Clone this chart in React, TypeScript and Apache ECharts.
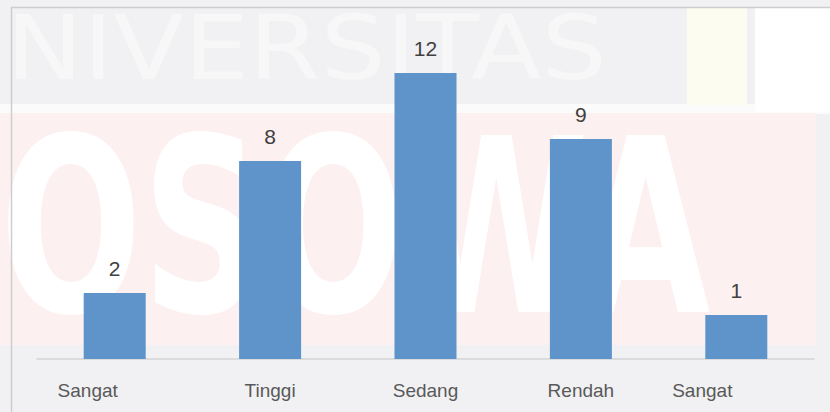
import React, { useEffect, useRef } from "react";
import * as echarts from "echarts";

const categories = ["Sangat", "Tinggi", "Sedang", "Rendah", "Sangat"];
const values = [2, 8, 12, 9, 1];
const axisMin = -1;
const axisMax = 13;

export default function App() {
  const ref = useRef<HTMLDivElement>(null);
  useEffect(() => {
    if (!ref.current) return;
    const chart = echarts.init(ref.current, undefined, { renderer: "svg" });
    const font = '"Liberation Sans", Arial, sans-serif';
    chart.setOption({
      animation: false,
      backgroundColor: "#f1f1f3",
      graphic: [
        { type: "rect", z: -10, silent: true, shape: { x: 0, y: 104, width: 830, height: 10 }, style: { fill: "#fbfbfc" } },
        { type: "rect", z: -10, silent: true, shape: { x: 0, y: 113, width: 816, height: 232 }, style: { fill: "#fcf0f0" } },
        { type: "rect", z: -10, silent: true, shape: { x: 687, y: 8, width: 60, height: 97 }, style: { fill: "#fcfcf1" } },
        { type: "rect", z: -10, silent: true, shape: { x: 755, y: 8, width: 75, height: 104 }, style: { fill: "#ffffff" } },
        {
          type: "text", z: -9, silent: true, x: 6, y: 48, scaleX: 1.17, scaleY: 1.02,
          style: { text: "NIVERSITAS", font: '88px "DejaVu Sans"', fill: "#f7f7f8", textVerticalAlign: "middle" } as any,
        },
        {
          type: "text", z: -9, silent: true, x: 0, y: 228, scaleX: 0.655, scaleY: 0.95,
          style: { text: "OSOWA", font: 'bold 255px "DejaVu Sans"', fill: "#ffffff", textVerticalAlign: "middle" } as any,
        },
        { type: "line", z: -5, silent: true, shape: { x1: 11, y1: 7.5, x2: 830, y2: 7.5 }, style: { stroke: "#cdcdcf", lineWidth: 1.5 } },
        { type: "line", z: -5, silent: true, shape: { x1: 11.5, y1: 7, x2: 11.5, y2: 412 }, style: { stroke: "#cdcdcf", lineWidth: 1.5 } },
      ],
      grid: { left: 37, right: 16, top: 51, bottom: 53, containLabel: false },
      xAxis: {
        type: "category",
        data: categories,
        axisLine: { show: true, onZero: false, lineStyle: { color: "#d3d3d6", width: 1.5 } },
        axisTick: { show: false },
        axisLabel: {
          interval: 0,
          margin: 22,
          color: "#595959",
          fontSize: 19,
          fontFamily: font,
          formatter: (v: string, i: number) =>
            i === 0 ? `{a|${v}}` : i === categories.length - 1 ? `{b|${v}}` : `{n|${v}}`,
          rich: {
            a: { fontSize: 19, fontFamily: font, color: "#595959", padding: [0, 54, 0, 0] },
            b: { fontSize: 19, fontFamily: font, color: "#595959", padding: [0, 68, 0, 0] },
            n: { fontSize: 19, fontFamily: font, color: "#595959" },
          },
        },
      },
      yAxis: {
        type: "value",
        min: axisMin,
        max: axisMax,
        startValue: axisMin,
        show: false,
        splitLine: { show: false },
      },
      series: [
        {
          type: "bar",
          data: values,
          barWidth: 62,
          itemStyle: { color: "#5f94ca" },
          label: {
            show: true,
            position: "top",
            distance: 14,
            fontSize: 21,
            fontFamily: font,
            color: "#404040",
          },
        },
      ],
    } as any);
    return () => chart.dispose();
  }, []);
  return (
    <div
      ref={ref}
      style={{ position: "fixed", left: 0, top: 0, width: 830, height: 412 }}
    />
  );
}
